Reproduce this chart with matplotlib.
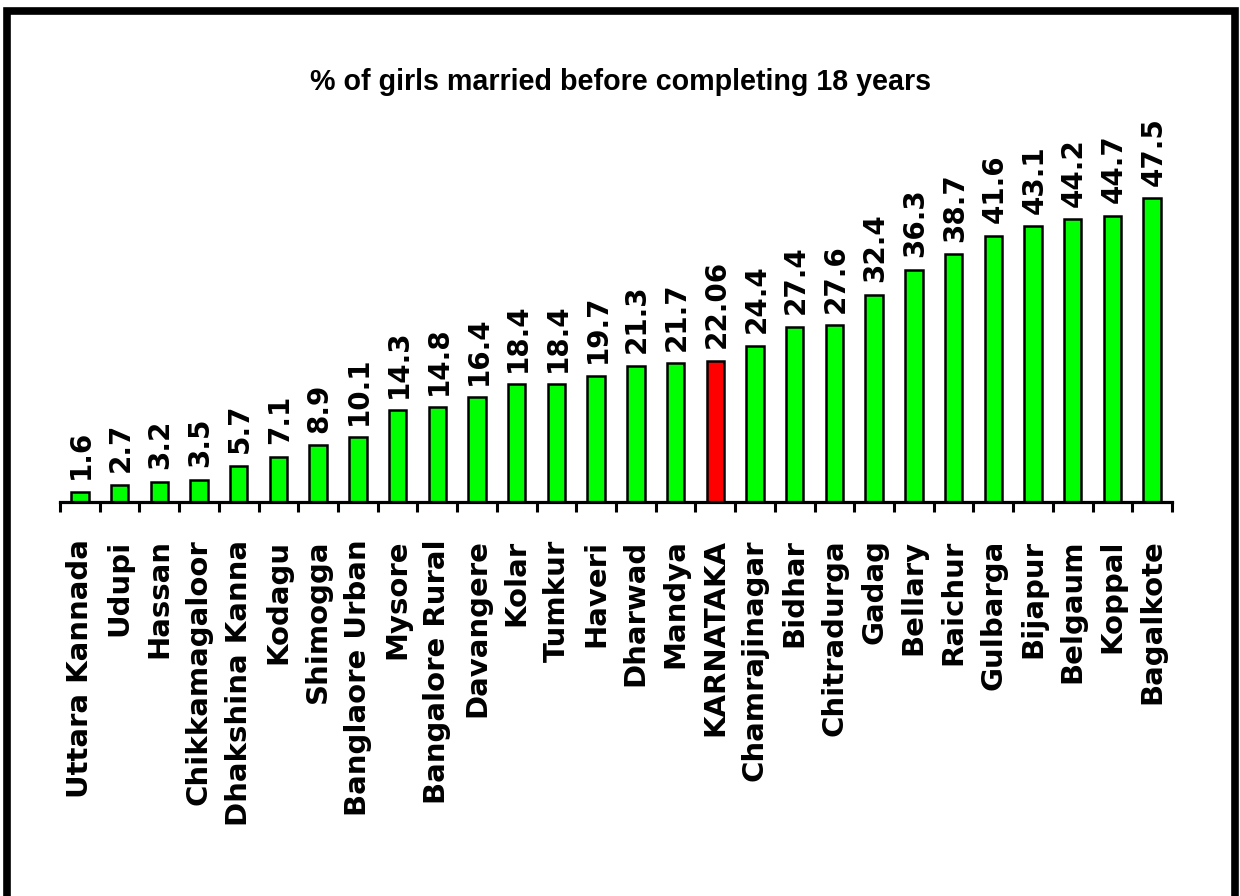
import matplotlib.pyplot as plt
from matplotlib.patches import Rectangle

districts = [
    "Uttara Kannada", "Udupi", "Hassan", "Chikkamagaloor", "Dhakshina Kanna",
    "Kodagu", "Shimogga", "Banglaore Urban", "Mysore", "Bangalore Rural",
    "Davangere", "Kolar", "Tumkur", "Haveri", "Dharwad", "Mandya",
    "KARNATAKA", "Chamrajinagar", "Bidhar", "Chitradurga", "Gadag",
    "Bellary", "Raichur", "Gulbarga", "Bijapur", "Belgaum", "Koppal",
    "Bagalkote",
]
percent = [
    1.6, 2.7, 3.2, 3.5, 5.7, 7.1, 8.9, 10.1, 14.3, 14.8, 16.4, 18.4, 18.4,
    19.7, 21.3, 21.7, 22.06, 24.4, 27.4, 27.6, 32.4, 36.3, 38.7, 41.6, 43.1,
    44.2, 44.7, 47.5,
]
value_labels = [
    "1.6", "2.7", "3.2", "3.5", "5.7", "7.1", "8.9", "10.1", "14.3", "14.8",
    "16.4", "18.4", "18.4", "19.7", "21.3", "21.7", "22.06", "24.4", "27.4",
    "27.6", "32.4", "36.3", "38.7", "41.6", "43.1", "44.2", "44.7", "47.5",
]
highlight = "KARNATAKA"
title = "% of girls married before completing 18 years"


def main():
    fig = plt.figure(figsize=(12.4, 8.96), dpi=100)
    n = len(districts)
    # axes placed so the baseline sits where the reference has it
    ax = fig.add_axes([60 / 1240, 394 / 896, 1112 / 1240, 352 / 896])

    x = list(range(n))
    colors = ["#ff0000" if d == highlight else "#00ff00" for d in districts]
    ax.bar(x, percent, width=0.44, color=colors, edgecolor="black", linewidth=1.8)

    for xi, v, lab in zip(x, percent, value_labels):
        ax.annotate(lab, (xi, v), xytext=(1, 9), textcoords="offset points",
                    rotation=90, ha="center", va="bottom",
                    fontsize=20, fontweight="bold", family="DejaVu Sans")

    ax.set_xlim(-0.5, n - 0.5)
    ax.set_ylim(0, 55)
    for s in ["top", "right", "left"]:
        ax.spines[s].set_visible(False)
    ax.spines["bottom"].set_linewidth(2.3)
    ax.set_yticks([])

    ax.set_xticks(x)
    ax.set_xticklabels(districts, rotation=90, fontsize=21, fontweight="bold",
                       family="DejaVu Sans")
    ax.tick_params(axis="x", which="major", length=0, pad=27)
    ax.set_xticks([i - 0.5 for i in range(n + 1)], minor=True)
    ax.tick_params(axis="x", which="minor", length=7.5, width=2.2, direction="out")

    fig.text(0.5, (896 - 82) / 896, title, ha="center", va="center",
             fontsize=20.6, fontweight="bold", family="Liberation Sans")

    # thick frame around the chart, bottom edge runs off the image
    fig.add_artist(Rectangle((7 / 1240, -0.2), 1228 / 1240, 0.2 + 885 / 896,
                             transform=fig.transFigure, fill=False,
                             edgecolor="black", linewidth=5.5))

    fig.savefig("out.png", dpi=100)


if __name__ == "__main__":
    main()
